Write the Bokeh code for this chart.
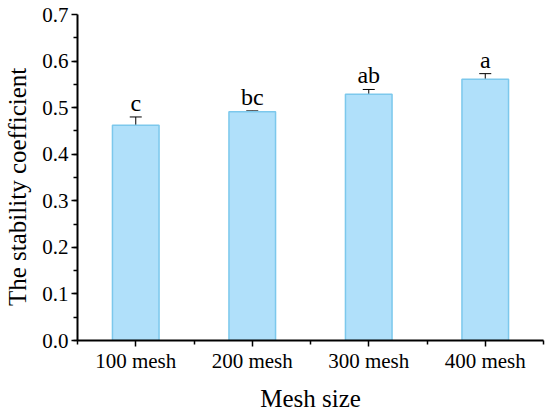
from bokeh.plotting import figure
from bokeh.models import Range1d, FixedTicker, ColumnDataSource, Whisker, TeeHead, NumeralTickFormatter
from bokeh.core.properties import value
from bokeh.embed import file_html
from bokeh.resources import INLINE

categories = ["100 mesh", "200 mesh", "300 mesh", "400 mesh"]
means = [0.462, 0.491, 0.529, 0.561]
errors = [0.018, 0.002, 0.010, 0.012]
letters = ["c", "bc", "ab", "a"]
y_ticks = [0.0, 0.1, 0.2, 0.3, 0.4, 0.5, 0.6, 0.7]

xs = list(range(1, len(categories) + 1))
src = ColumnDataSource(dict(
    x=xs, top=means,
    upper=[m + e for m, e in zip(means, errors)],
    lower=[m - e for m, e in zip(means, errors)],
    lab=letters,
))

FONT = "Liberation Serif"

p = figure(width=550, height=414, output_backend="svg", toolbar_location=None,
           x_range=Range1d(0.5, len(categories) + 0.5), y_range=Range1d(0, 0.7),
           min_border_left=77, min_border_top=14, min_border_right=7, min_border_bottom=72)
p.outline_line_color = None
p.grid.visible = False
p.background_fill_color = "white"

p.vbar(x="x", top="top", width=0.4, bottom=0, source=src,
       fill_color="#B0E0FA", line_color="#7CC8EC", line_width=1.5)

w = Whisker(base="x", upper="upper", lower="lower", source=src,
            line_color="black", line_width=1,
            upper_head=TeeHead(size=12, line_color="black", line_width=1),
            lower_head=TeeHead(size=12, line_color="black", line_width=1))
p.add_layout(w)

p.text(x="x", y="upper", text="lab", source=src, text_align="center",
       text_baseline="bottom", y_offset=-1, text_font=value(FONT),
       text_font_size="24px", text_color="black")

# x axis
xa = p.xaxis[0]
xa.ticker = FixedTicker(ticks=xs, minor_ticks=[i + 0.5 for i in range(len(categories) + 1)])
xa.major_label_overrides = {x: c for x, c in zip(xs, categories)}
xa.axis_label = "Mesh size"

# y axis
ya = p.yaxis[0]
ya.ticker = FixedTicker(ticks=y_ticks, minor_ticks=[i * 0.05 for i in range(15)])
ya.formatter = NumeralTickFormatter(format="0.0")
ya.axis_label = "The stability coefficient\u00a0\u00a0\u00a0"

for ax in (xa, ya):
    ax.axis_line_width = 2
    ax.axis_line_color = "black"
    ax.major_tick_line_color = "black"
    ax.minor_tick_line_color = "black"
    ax.major_tick_line_width = 1.5
    ax.minor_tick_line_width = 1.5
    ax.major_tick_out = 6
    ax.major_tick_in = 0
    ax.minor_tick_out = 4
    ax.minor_tick_in = 0
    ax.major_label_text_font = FONT
    ax.major_label_text_font_size = "21px"
    ax.major_label_text_color = "black"
    ax.axis_label_text_font = FONT
    ax.axis_label_text_font_size = "25px"
    ax.axis_label_text_font_style = "normal"
    ax.axis_label_text_color = "black"

xa.major_label_standoff = 2
xa.axis_label_standoff = 9
ya.major_label_standoff = 3
ya.axis_label_standoff = 8

open("out.html", "w").write(file_html(p, INLINE))
